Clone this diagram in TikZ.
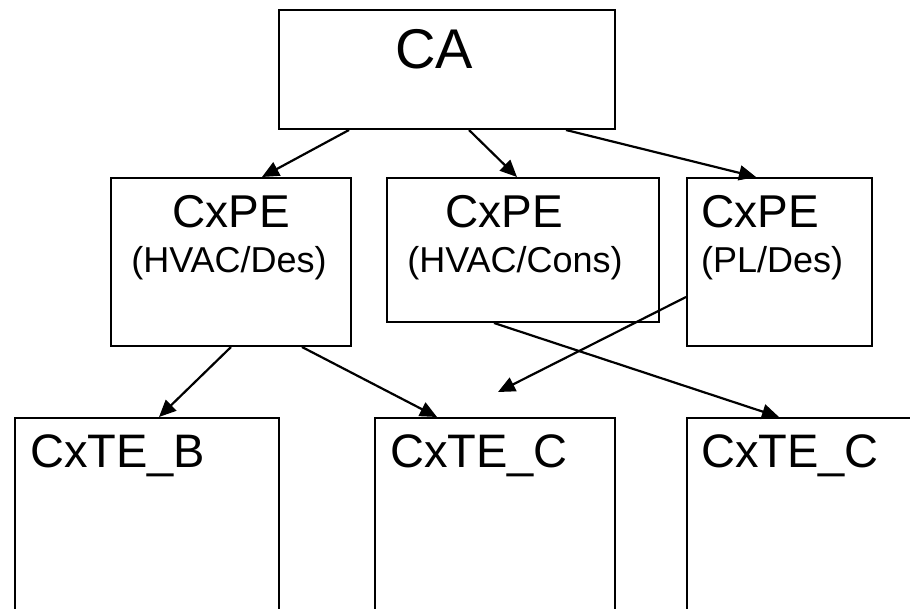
\documentclass[tikz,border=0pt]{standalone}
\usepackage{fontspec}
\setmainfont{Liberation Sans}
\usetikzlibrary{arrows.meta}
\tikzset{
  box/.style={draw=black, line width=2pt, rectangle, inner sep=0pt, fill=none},
  lbl/.style={inner sep=0pt, text=black},
  conn/.style={line width=2.2pt, -{Triangle[length=17pt,width=15pt]}},
}
\begin{document}
\begin{tikzpicture}[x=1pt,y=-1pt]
\useasboundingbox (0,0) rectangle (910,608);
\clip (0,0) rectangle (910,608);
\fill[white] (0,0) rectangle (910,608);
% boxes
\node[box, minimum width=336pt, minimum height=119pt] (ca) at (447,69.5) {};
\node[box, minimum width=240pt, minimum height=168pt] (hd) at (231,262) {};
\node[box, minimum width=272pt, minimum height=144pt] (hc) at (523,250) {};
\node[box, minimum width=185pt, minimum height=168pt] (pd) at (779.5,262) {};
\node[box, minimum width=264pt, minimum height=220pt] (tb) at (147,528) {};
\node[box, minimum width=240pt, minimum height=220pt] (tc1) at (495,528) {};
\node[box, minimum width=250pt, minimum height=220pt] (tc2) at (812,528) {};
% texts
\node[lbl, anchor=base] (tca) at (434,68) {\fontsize{56}{60}\selectfont CA};
\node[lbl, anchor=base] (thd1) at (231,227) {\fontsize{46}{50}\selectfont CxPE};
\node[lbl, anchor=base] (thd2) at (229,272) {\fontsize{36}{40}\selectfont (HVAC/Des)};
\node[lbl, anchor=base] (thc1) at (504,227) {\fontsize{46}{50}\selectfont CxPE};
\node[lbl, anchor=base] (thc2) at (515,272) {\fontsize{36}{40}\selectfont (HVAC/Cons)};
\node[lbl, anchor=base west] (tpd1) at (701,227) {\fontsize{46}{50}\selectfont CxPE};
\node[lbl, anchor=base west] (tpd2) at (701,272) {\fontsize{36}{40}\selectfont (PL/Des)};
\node[lbl, anchor=base west] (ttb) at (30,467) {\fontsize{47}{50}\selectfont CxTE\_B};
\node[lbl, anchor=base west] (ttc1) at (390,467) {\fontsize{47}{50}\selectfont CxTE\_C};
\node[lbl, anchor=base west] (ttc2) at (701,467) {\fontsize{47}{50}\selectfont CxTE\_C};
% connectors
\coordinate (free) at (498,392);
\draw[conn] ([xshift=71pt]ca.south west) -- ([xshift=152pt]hd.north west);
\draw[conn] ([xshift=191pt]ca.south west) -- ([xshift=131pt]hc.north west);
\draw[conn] ([xshift=288pt]ca.south west) -- ([xshift=70pt]pd.north west);
\draw[conn] ([xshift=121pt]hd.south west) -- ([xshift=145pt]tb.north west);
\draw[conn] ([xshift=192pt]hd.south west) -- ([xshift=63pt]tc1.north west);
\draw[conn] ([xshift=108pt]hc.south west) -- ([xshift=93pt]tc2.north west);
\draw[conn] ([yshift=-120pt]pd.north west) -- (free);
\end{tikzpicture}
\end{document}
